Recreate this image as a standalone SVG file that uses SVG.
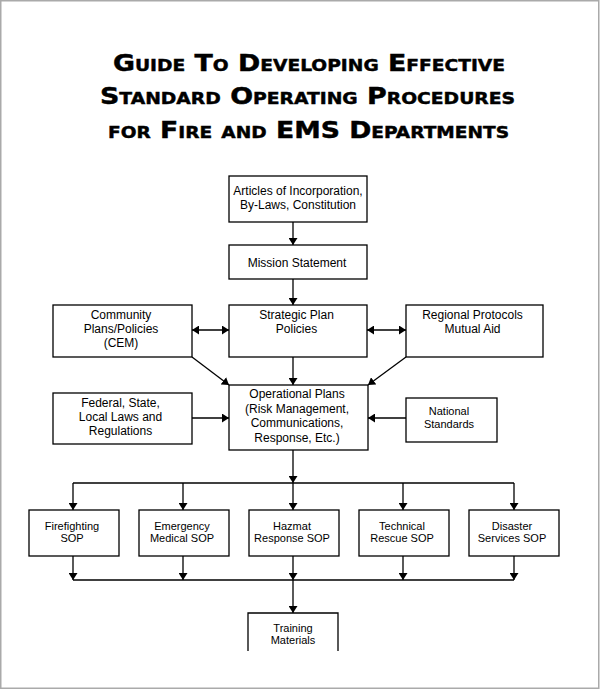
<svg xmlns="http://www.w3.org/2000/svg" width="600" height="690" viewBox="0 0 600 690">
<style>
.box{fill:#fff;stroke:#000;stroke-width:1.3}
.t{font-family:"Liberation Sans",Arial,sans-serif;font-size:12px;fill:#000;text-anchor:middle}
.s{font-size:11px}
.c{fill:none;stroke:#000;stroke-width:1.3}
.a{marker-end:url(#ah)}
.b{marker-start:url(#ah);marker-end:url(#ah)}
.title{font-family:"DejaVu Sans",Verdana,sans-serif;font-weight:bold;font-size:23px;font-variant:small-caps;text-anchor:middle;fill:#000;stroke:#000;stroke-width:0.45}
</style>
<defs>
<marker id="ah" viewBox="0 0 7 9" refX="7" refY="4.5" markerWidth="7" markerHeight="9" markerUnits="userSpaceOnUse" orient="auto-start-reverse"><path d="M0,0 L7,4.5 L0,9 z" fill="#000"/></marker>
</defs>
<rect x="0.75" y="0.75" width="598" height="687.5" fill="#fff" stroke="#aaa" stroke-width="1.5"/>
<g id="title">
<text class="title" x="309" y="70.5" textLength="392" lengthAdjust="spacingAndGlyphs">Guide To Developing Effective</text>
<text class="title" x="307.5" y="103.5" textLength="415" lengthAdjust="spacingAndGlyphs">Standard Operating Procedures</text>
<text class="title" x="308.5" y="138" textLength="401" lengthAdjust="spacingAndGlyphs">for Fire and EMS Departments</text>
</g>
<g id="connectors">
<path class="c a" d="M293,222 V245"/>
<path class="c a" d="M293,279 V305"/>
<path class="c b" d="M192,330 H229"/>
<path class="c b" d="M367,330 H406"/>
<path class="c a" d="M293,357 V385"/>
<path class="c a" d="M192,357 L229,385"/>
<path class="c a" d="M406,357 L368,385"/>
<path class="c a" d="M192,418 H229"/>
<path class="c a" d="M406,418 H368"/>
<path class="c a" d="M293,450 V483"/>
<path class="c" d="M73,483 H514"/>
<path class="c a" d="M73,483 V510"/>
<path class="c a" d="M183,483 V510"/>
<path class="c a" d="M293,483 V510"/>
<path class="c a" d="M403,483 V510"/>
<path class="c a" d="M514,483 V510"/>
<path class="c a" d="M73,556 V580"/>
<path class="c a" d="M183,556 V580"/>
<path class="c a" d="M293,556 V580"/>
<path class="c a" d="M403,556 V580"/>
<path class="c a" d="M514,556 V580"/>
<path class="c" d="M73,580 H514"/>
<path class="c a" d="M293,580 V613"/>
</g>
<g id="articles">
<rect class="box" x="229" y="176" width="138" height="46"/>
<text class="t" x="298" y="195">Articles of Incorporation,</text>
<text class="t" x="298" y="209">By-Laws, Constitution</text>
</g>
<g id="mission">
<rect class="box" x="229" y="245" width="138" height="34"/>
<text class="t" x="297" y="266.5">Mission Statement</text>
</g>
<g id="community">
<rect class="box" x="53" y="305" width="139" height="52"/>
<text class="t" x="121" y="319">Community</text>
<text class="t" x="121" y="333">Plans/Policies</text>
<text class="t" x="121" y="347">(CEM)</text>
</g>
<g id="strategic">
<rect class="box" x="229" y="305" width="138" height="52"/>
<text class="t" x="296.5" y="319">Strategic Plan</text>
<text class="t" x="296.5" y="333">Policies</text>
</g>
<g id="regional">
<rect class="box" x="406" y="305" width="137" height="52"/>
<text class="t" x="472.5" y="319">Regional Protocols</text>
<text class="t" x="472.5" y="333">Mutual Aid</text>
</g>
<g id="federal">
<rect class="box" x="53" y="393" width="139" height="51"/>
<text class="t" x="120.5" y="406.5">Federal, State,</text>
<text class="t" x="120.5" y="420.5">Local Laws and</text>
<text class="t" x="120.5" y="434.5">Regulations</text>
</g>
<g id="operational">
<rect class="box" x="229" y="385" width="139" height="65"/>
<text class="t" x="297" y="398">Operational Plans</text>
<text class="t" x="297" y="412.5">(Risk Management,</text>
<text class="t" x="297" y="427">Communications,</text>
<text class="t" x="297" y="441.5">Response, Etc.)</text>
</g>
<g id="national">
<rect class="box" x="406" y="398" width="91" height="44"/>
<text class="t s" x="449" y="415">National</text>
<text class="t s" x="449" y="427.5">Standards</text>
</g>
<g id="firefighting">
<rect class="box" x="29" y="510" width="90" height="46"/>
<text class="t s" x="72" y="529.5">Firefighting</text>
<text class="t s" x="72" y="542">SOP</text>
</g>
<g id="emergency">
<rect class="box" x="139" y="510" width="90" height="46"/>
<text class="t s" x="182" y="529.5">Emergency</text>
<text class="t s" x="182" y="542">Medical SOP</text>
</g>
<g id="hazmat">
<rect class="box" x="249" y="510" width="90" height="46"/>
<text class="t s" x="292" y="529.5">Hazmat</text>
<text class="t s" x="292" y="542">Response SOP</text>
</g>
<g id="technical">
<rect class="box" x="359" y="510" width="90" height="46"/>
<text class="t s" x="402" y="529.5">Technical</text>
<text class="t s" x="402" y="542">Rescue SOP</text>
</g>
<g id="disaster">
<rect class="box" x="469" y="510" width="90" height="46"/>
<text class="t s" x="512" y="529.5">Disaster</text>
<text class="t s" x="512" y="542">Services SOP</text>
</g>
<g id="training">
<path class="box" d="M248,651 V613 H338 V651" fill="none"/>
<text class="t s" x="293" y="631.5">Training</text>
<text class="t s" x="293" y="644">Materials</text>
</g>
</svg>
